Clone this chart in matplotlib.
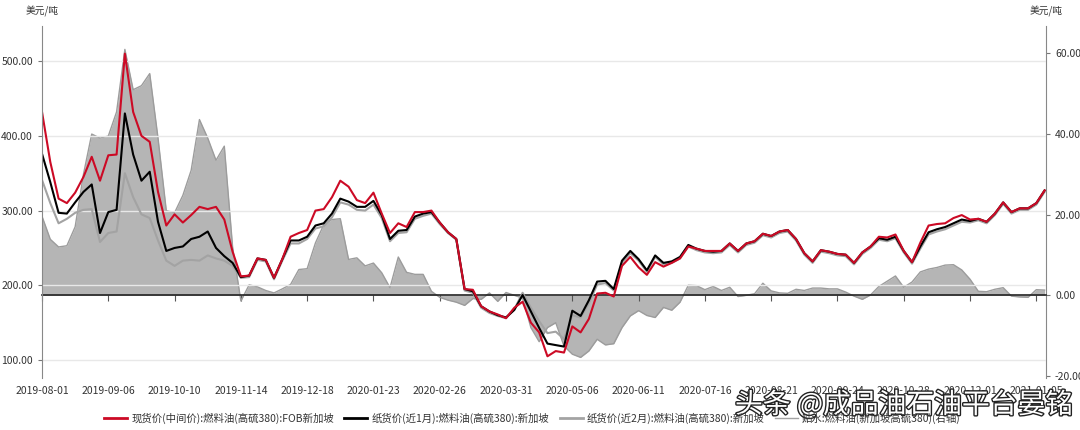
import numpy as np
import matplotlib
matplotlib.use("Agg")
import matplotlib.pyplot as plt
import matplotlib.patheffects as pe
from matplotlib.lines import Line2D
from matplotlib.ticker import FormatStrFormatter

plt.rcParams['font.family'] = ['Noto Sans CJK SC', 'DejaVu Sans']

# sampled every 3 trading days, starting 2019-08-01
spot = [432, 365, 316, 310, 324, 345, 372, 340, 374, 375, 510, 432, 400, 392, 325, 280,
        295, 284, 294, 305, 302, 305, 288, 245, 212, 213, 236, 234, 210, 235,
        265, 270, 274, 300, 302, 318, 340, 332, 314, 310, 324, 296, 270, 283, 278, 298,
        298, 300, 284, 271, 262, 195, 194, 172, 165, 161, 156, 170, 178, 150,
        137, 105, 112, 110, 145, 137, 155, 189, 190, 185, 226, 238, 224, 214, 231, 225,
        230, 236, 252, 249, 246, 246, 246, 256, 246, 256, 259, 269, 266, 272, 274,
        262, 243, 232, 247, 245, 242, 241, 230, 244, 252, 265, 264, 268, 246, 231, 257,
        280, 282, 283, 290, 294, 288, 289, 285, 296, 311, 298, 303, 303, 310, 327]
paper_m1 = [376, 338, 297, 296, 311, 325, 335, 270, 298, 301, 430, 375, 340, 352, 285, 246,
            250, 252, 262, 265, 272, 250, 239, 230, 211, 213, 236, 234, 210, 235,
            260, 260, 265, 280, 283, 296, 316, 312, 305, 305, 313, 294, 262, 273, 274, 292,
            296, 298, 284, 271, 262, 195, 192, 172, 165, 160, 157, 167, 187, 165,
            143, 122, 120, 118, 166, 159, 180, 205, 206, 195, 233, 246, 235, 220, 240, 230,
            232, 238, 254, 249, 246, 245, 246, 256, 246, 256, 259, 269, 266, 272, 274,
            262, 243, 232, 247, 245, 242, 241, 230, 244, 252, 263, 261, 265, 246, 231, 252,
            271, 275, 278, 283, 288, 286, 289, 285, 296, 311, 298, 303, 303, 310, 327]
paper_m2 = [341, 310, 283, 289, 297, 301, 302, 258, 270, 272, 350, 318, 295, 290, 260, 233,
            226, 233, 234, 233, 240, 236, 233, 226, 210, 211, 234, 232, 208, 233,
            256, 256, 262, 276, 279, 291, 311, 308, 301, 300, 308, 290, 259, 270, 271, 289,
            293, 296, 282, 270, 261, 193, 190, 170, 163, 159, 156, 168, 190, 170,
            152, 136, 138, 128, 160, 157, 176, 201, 203, 193, 230, 243, 233, 218, 238, 228,
            230, 236, 252, 247, 244, 243, 244, 254, 244, 254, 257, 267, 264, 270, 272,
            260, 241, 230, 245, 243, 240, 239, 228, 242, 250, 261, 259, 263, 244, 229, 249,
            268, 272, 275, 280, 285, 284, 287, 283, 294, 309, 296, 301, 301, 308, 325]
spread = [19.6, 13.9, 12.0, 12.3, 17.0, 30.0, 40.0, 39.0, 39.5, 45.5, 61.0, 51.0, 52.0, 55.0,
          39.0, 21.0, 20.5, 24.8, 31.0, 43.6, 39.0, 33.5, 37.0, 12.0, -1.4, 2.6, 2.1, 1.2,
          0.6, 1.6,
          2.7, 6.4, 6.6, 13.0, 17.5, 18.8, 19.0, 8.9, 9.3, 7.3, 8.0, 5.6, 1.9, 9.5, 5.7,
          5.2, 5.2, 1.0, -0.5, -1.2, -1.7, -2.5, -0.8, -1.0, 0.6, -1.5, 0.7, 0.0, -0.7, -8.0,
          -11.5, -8.0, -6.8, -12.6, -14.6, -15.4, -13.8, -10.9, -12.3, -12.0, -8.0, -5.1,
          -3.8, -5.0, -5.5, -3.0, -3.7, -1.7, 2.5, 2.4, 1.4, 2.2, 1.2, 2.0, -0.3, 0.0, 0.4,
          3.0, 1.1, 0.6, 0.5,
          1.5, 1.2, 1.8, 1.8, 1.6, 1.6, 0.8, -0.2, -1.0, 0.1, 2.2, 3.5, 4.8, 2.0, 3.3, 5.8,
          6.5, 6.9, 7.5, 7.6, 6.3, 4.0, 1.0, 0.9, 1.5, 1.9, -0.2, -0.4, -0.5, 1.4, 1.3]

date_labels = ['2019-08-01', '2019-09-06', '2019-10-10', '2019-11-14', '2019-12-18',
               '2020-01-23', '2020-02-26', '2020-03-31', '2020-05-06', '2020-06-11',
               '2020-07-16', '2020-08-21', '2020-09-24', '2020-10-28', '2020-12-01',
               '2021-01-05']
names = ['现货价(中间价):燃料油(高硫380):FOB新加坡',
         '纸货价(近1月):燃料油(高硫380):新加坡',
         '纸货价(近2月):燃料油(高硫380):新加坡',
         '贴水:燃料油(新加坡高硫380)(右轴)']

days = np.arange(len(spot)) * 3
tick_pos = np.arange(len(date_labels)) * 24

fig = plt.figure(figsize=(10.8, 4.3), dpi=100)
ax = fig.add_axes([0.0389, 0.121, 0.9296, 0.8185])
ax2 = ax.twinx()
ax.set_zorder(ax2.get_zorder() + 1)
ax.patch.set_visible(False)

# spread area on right axis
ax2.fill_between(days, 0, spread, color='#b5b5b5', lw=0)
ax2.plot(days, spread, color='#9c9c9c', lw=1)
ax2.set_ylim(-20.5, 66.8)
ax2.set_yticks([-20, 0, 20, 40, 60])
ax2.yaxis.set_major_formatter(FormatStrFormatter('%.2f'))

# x axis line sits on spread zero
ax2.xaxis.set_visible(True)
ax2.spines['bottom'].set_visible(True)
ax2.spines['bottom'].set_position(('data', 0))
ax2.spines['bottom'].set_color('#222222')
ax2.spines['bottom'].set_linewidth(1.2)
ax2.set_xticks(tick_pos)
ax2.tick_params(axis='x', labelbottom=False, length=4, color='#555555', direction='out')

# prices on left axis
ax.plot(days, paper_m2, color='#a3a3a3', lw=1.5)
ax.plot(days, paper_m1, color='#000000', lw=1.5)
ax.plot(days, spot, color='#cc0a25', lw=1.5)
ax.set_ylim(76, 547)
ax.set_yticks([100, 200, 300, 400, 500])
ax.yaxis.set_major_formatter(FormatStrFormatter('%.2f'))
ax.set_xlim(0, 363.5)
ax.set_xticks(tick_pos)
ax.set_xticklabels(date_labels)
ax.tick_params(axis='x', length=0, pad=6)
ax.grid(axis='y', color='#e8e8e8', lw=1)

for a in (ax, ax2):
    a.spines['top'].set_visible(False)
    a.tick_params(axis='y', labelsize=7.5, labelcolor='#333333', color='#777777', length=3)
    a.tick_params(axis='x', labelsize=7.5, labelcolor='#333333')
ax.spines['bottom'].set_visible(False)
ax.spines['right'].set_visible(False)
ax.spines['left'].set_color('#888888')
ax2.spines['left'].set_visible(False)
ax2.spines['right'].set_color('#888888')

fig.text(26 / 1080, 1 - 11 / 430, '美元/吨', fontsize=7, color='#333333', va='center')
fig.text(1030 / 1080, 1 - 11 / 430, '美元/吨', fontsize=7, color='#333333', va='center')

handles = [Line2D([], [], color='#cc0a25', lw=2),
           Line2D([], [], color='#000000', lw=2),
           Line2D([], [], color='#a3a3a3', lw=2),
           Line2D([], [], color='#a3a3a3', lw=1)]
fig.legend(handles, names, loc='center', bbox_to_anchor=(0.493, 1 - 418 / 430), ncol=4,
           frameon=False, fontsize=7.5, handlelength=2.2, handletextpad=0.4,
           columnspacing=1.0, labelcolor='#333333')

fig.text(735 / 1080, 1 - 405 / 430, '头条 @成品油石油平台晏铭', fontsize=20, color='white',
         va='center', ha='left',
         path_effects=[pe.withStroke(linewidth=2, foreground='#222222')])

fig.savefig('out.png', dpi=100)
